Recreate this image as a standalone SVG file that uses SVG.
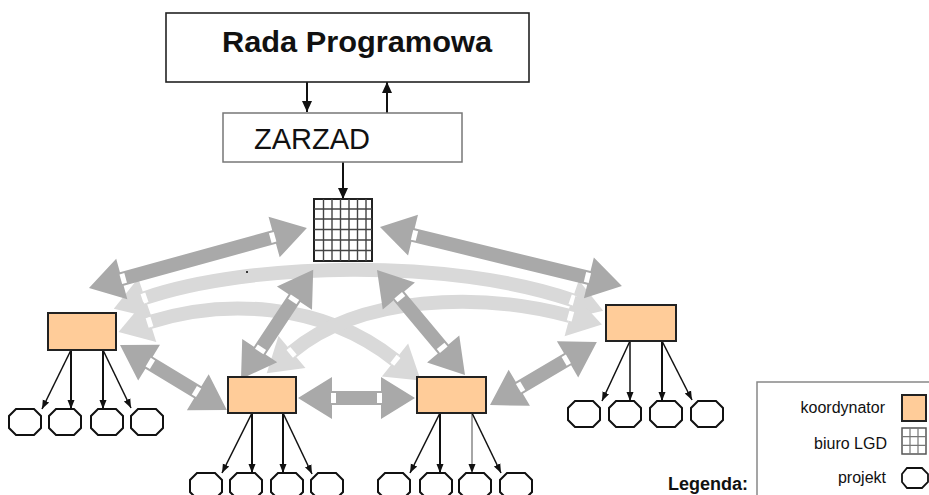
<svg xmlns="http://www.w3.org/2000/svg" width="929" height="495" viewBox="0 0 929 495">
<style>
.t{font-family:"Liberation Sans",Arial,sans-serif;fill:#111}
.dk{fill:#A9A9A9}
.wb{fill:#fff}
.lt{fill:none;stroke:#D9D9D9;stroke-width:14;marker-start:url(#lh);marker-end:url(#lh)}
.co{fill:#FFCC99;stroke:#222;stroke-width:2}
.pj{fill:#fff;stroke:#111;stroke-width:2}
.ln{stroke:#111;stroke-width:1.5;fill:none;marker-end:url(#ah)}
.lnb{stroke:#111;stroke-width:2;fill:none;marker-end:url(#ah)}
.top{stroke:#111;stroke-width:2;fill:none;marker-end:url(#ab)}
.gl{stroke:#444;stroke-width:1.4;fill:none}
</style>
<defs>
<marker id="lh" markerUnits="userSpaceOnUse" orient="auto-start-reverse" viewBox="-10 -25 50 50" refX="0" refY="0" markerWidth="50" markerHeight="50">
<path d="M0,-21 L33,0 L0,21 Z" fill="#D9D9D9"/>
<rect x="-2" y="-5" width="5" height="10" fill="#fff"/>
</marker>
<marker id="ah" markerUnits="userSpaceOnUse" orient="auto" viewBox="0 -5 10 10" refX="9" refY="0" markerWidth="10" markerHeight="10">
<path d="M0,-3.5 L9,0 L0,3.5 Z" fill="#111"/>
</marker>
<marker id="ab" markerUnits="userSpaceOnUse" orient="auto" viewBox="0 -6 12 12" refX="11" refY="0" markerWidth="12" markerHeight="12">
<path d="M0,-5 L11,0 L0,5 Z" fill="#111"/>
</marker>
<path id="oct" d="M7,0 H25 L32,7 V19 L25,26 H7 L0,19 V7 Z"/>
</defs>

<g id="connectors">
<!-- light curved double arrows -->
<path class="lt" d="M145,298 C250,262 450,258 572,300"/>
<path class="lt" d="M150,322 C220,300 320,300 395,360"/>
<path class="lt" d="M570,316 C480,292 360,295 292,352"/>
<!-- dark double arrows -->
<g transform="translate(89,288) rotate(-15.39)">
<path class="dk" d="M0,0 L34,-21 L34,-7 L192,-7 L192,-21 L226,0 L192,21 L192,7 L34,7 L34,21 Z"/>
<rect class="wb" x="33" y="-5" width="5" height="10"/><rect class="wb" x="188" y="-5" width="5" height="10"/>
</g>
<g transform="translate(380,227) rotate(13.70)">
<path class="dk" d="M0,0 L34,-21 L34,-7 L215,-7 L215,-21 L249,0 L215,21 L215,7 L34,7 L34,21 Z"/>
<rect class="wb" x="33" y="-5" width="5" height="10"/><rect class="wb" x="211" y="-5" width="5" height="10"/>
</g>
<g transform="translate(241,379) rotate(-56.55)">
<path class="dk" d="M0,0 L34,-21 L34,-7 L97,-7 L97,-21 L131,0 L97,21 L97,7 L34,7 L34,21 Z"/>
<rect class="wb" x="33" y="-5" width="5" height="10"/><rect class="wb" x="93" y="-5" width="5" height="10"/>
</g>
<g transform="translate(377,270) rotate(50.03)">
<path class="dk" d="M0,0 L34,-21 L34,-7 L103,-7 L103,-21 L137,0 L103,21 L103,7 L34,7 L34,21 Z"/>
<rect class="wb" x="33" y="-5" width="5" height="10"/><rect class="wb" x="99" y="-5" width="5" height="10"/>
</g>
<g transform="translate(120,345) rotate(31.27)">
<path class="dk" d="M0,0 L34,-21 L34,-7 L91,-7 L91,-21 L125,0 L91,21 L91,7 L34,7 L34,21 Z"/>
<rect class="wb" x="33" y="-5" width="5" height="10"/><rect class="wb" x="87" y="-5" width="5" height="10"/>
</g>
<g transform="translate(298,398)">
<path class="dk" d="M0,0 L34,-21 L34,-7 L83,-7 L83,-21 L117,0 L83,21 L83,7 L34,7 L34,21 Z"/>
<rect class="wb" x="33" y="-5" width="5" height="10"/><rect class="wb" x="79" y="-5" width="5" height="10"/>
</g>
<g transform="translate(490,405) rotate(-30.49)">
<path class="dk" d="M0,0 L34,-21 L34,-7 L90,-7 L90,-21 L124,0 L90,21 L90,7 L34,7 L34,21 Z"/>
<rect class="wb" x="33" y="-5" width="5" height="10"/><rect class="wb" x="86" y="-5" width="5" height="10"/>
</g>
<!-- top arrows -->
<line class="top" x1="307" y1="82" x2="307" y2="112"/>
<line class="top" x1="387" y1="113" x2="387" y2="82"/>
<line class="top" x1="343" y1="162" x2="343" y2="199"/>
<!-- coordinator to project arrows -->
<line class="ln" x1="71" y1="350" x2="42" y2="409"/>
<line class="lnb" x1="71" y1="350" x2="71" y2="409"/>
<line class="lnb" x1="103" y1="350" x2="103" y2="409"/>
<line class="ln" x1="103" y1="350" x2="131" y2="408"/>
<line class="ln" x1="252" y1="413" x2="222" y2="473"/>
<line class="lnb" x1="252" y1="413" x2="252" y2="473"/>
<line class="lnb" x1="283" y1="413" x2="283" y2="473"/>
<line class="ln" x1="283" y1="413" x2="312" y2="474"/>
<line class="ln" x1="440" y1="413" x2="410" y2="473"/>
<line class="lnb" x1="440" y1="413" x2="440" y2="473"/>
<line class="ln" style="stroke:#888" x1="472" y1="413" x2="472" y2="473"/>
<line class="ln" x1="472" y1="413" x2="501" y2="473"/>
<line class="ln" x1="630" y1="341" x2="602" y2="401"/>
<line class="ln" x1="630" y1="341" x2="630" y2="401"/>
<line class="lnb" x1="662" y1="341" x2="662" y2="401"/>
<line class="ln" x1="662" y1="341" x2="692" y2="400"/>
<circle cx="247" cy="272" r="1" fill="#000"/>
</g>

<g id="rada">
<rect x="166" y="13" width="363" height="69" fill="#fff" stroke="#222" stroke-width="1.6"/>
<text class="t" x="222" y="52" font-size="29" font-weight="bold" textLength="270" lengthAdjust="spacingAndGlyphs">Rada Programowa</text>
</g>
<g id="zarzad">
<rect x="223" y="113" width="239" height="49" fill="#fff" stroke="#777" stroke-width="1.5"/>
<text class="t" x="254" y="149" font-size="29">ZARZAD</text>
</g>
<g id="biuro">
<rect x="314" y="199" width="58" height="62" fill="#fff" stroke="#222" stroke-width="2"/>
<path class="gl" d="M323.5,199V261M332,199V261M340.5,199V261M349,199V261M357.5,199V261M366,199V261M314,209H372M314,219H372M314,229.5H372M314,240H372M314,250.5H372"/>
</g>
<g id="koord-1"><rect class="co" x="48" y="313" width="68" height="37"/></g>
<g id="koord-2"><rect class="co" x="228" y="377" width="68" height="36"/></g>
<g id="koord-3"><rect class="co" x="417" y="377" width="69" height="36"/></g>
<g id="koord-4"><rect class="co" x="606" y="305" width="70" height="36"/></g>

<g id="proj-1"><use href="#oct" class="pj" x="9" y="409"/></g>
<g id="proj-2"><use href="#oct" class="pj" x="49" y="409"/></g>
<g id="proj-3"><use href="#oct" class="pj" x="91" y="409"/></g>
<g id="proj-4"><use href="#oct" class="pj" x="131" y="409"/></g>
<g id="proj-5"><use href="#oct" class="pj" x="190" y="473"/></g>
<g id="proj-6"><use href="#oct" class="pj" x="230" y="473"/></g>
<g id="proj-7"><use href="#oct" class="pj" x="271" y="473"/></g>
<g id="proj-8"><use href="#oct" class="pj" x="311" y="473"/></g>
<g id="proj-9"><use href="#oct" class="pj" x="378" y="473"/></g>
<g id="proj-10"><use href="#oct" class="pj" x="420" y="473"/></g>
<g id="proj-11"><use href="#oct" class="pj" x="459" y="473"/></g>
<g id="proj-12"><use href="#oct" class="pj" x="500" y="473"/></g>
<g id="proj-13"><use href="#oct" class="pj" x="568" y="401"/></g>
<g id="proj-14"><use href="#oct" class="pj" x="609" y="401"/></g>
<g id="proj-15"><use href="#oct" class="pj" x="650" y="401"/></g>
<g id="proj-16"><use href="#oct" class="pj" x="691" y="401"/></g>

<g id="legenda">
<text class="t" x="668" y="490" font-size="18" font-weight="bold">Legenda:</text>
<rect x="757" y="382" width="190" height="130" fill="#fff" stroke="#888" stroke-width="1.5"/>
<text class="t" x="885" y="413" font-size="16" text-anchor="end">koordynator</text>
<text class="t" x="887" y="449" font-size="16" text-anchor="end">biuro LGD</text>
<text class="t" x="886" y="483" font-size="16" text-anchor="end">projekt</text>
<rect class="co" x="902" y="395" width="24" height="26"/>
<rect x="902" y="428" width="24" height="26" fill="#fff" stroke="#555" stroke-width="1.5"/>
<path d="M910,428V454M918,428V454M902,436.7H926M902,445.3H926" stroke="#777" stroke-width="1.2" fill="none"/>
<path d="M907,468 H922 L928,474 V482 L922,488 H907 L902,482 V474 Z" fill="#fff" stroke="#111" stroke-width="1.8"/>
</g>
</svg>
